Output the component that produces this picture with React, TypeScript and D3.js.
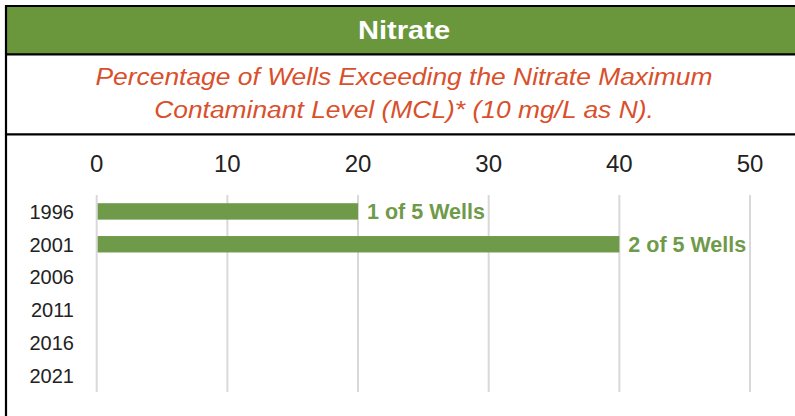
import React from "react";
import * as d3 from "d3";

const title = "Nitrate";
const subtitleLines = [
  "Percentage of Wells Exceeding the Nitrate Maximum",
  "Contaminant Level (MCL)* (10 mg/L as N).",
];
const years = ["1996", "2001", "2006", "2011", "2016", "2021"];
const percentValues: (number | null)[] = [20, 40, null, null, null, null];
const barLabels: (string | null)[] = ["1 of 5 Wells", "2 of 5 Wells", null, null, null, null];
const xTicks = [0, 10, 20, 30, 40, 50];

const W = 795;
const H = 416;
const GREEN_HEAD = "#6a963c";
const GREEN_BAR = "#6f9a4a";
const RED = "#d9502c";
const FONT = "Liberation Sans, Arial, Helvetica, sans-serif";

export default function App() {
  const x = d3.scaleLinear().domain([0, 50]).range([96.7, 750]);
  const y = d3.scaleBand<string>().domain(years).range([195, 392]).paddingInner(0.5).paddingOuter(0.25);
  const cx = 404;

  return (
    <svg width={W} height={H} style={{ position: "absolute", left: 0, top: 0, background: "#fff" }}>
      {/* header */}
      <rect x={6} y={6} width={W} height={48} fill={GREEN_HEAD} />
      <text
        x={cx}
        y={39.5}
        textAnchor="middle"
        fill="#fff"
        style={{ fontFamily: FONT }}
        fontWeight="bold"
        fontSize={26}
        transform={`translate(${cx},0) scale(1.12,1) translate(${-cx},0)`}
      >
        {title}
      </text>
      {subtitleLines.map((s, i) => (
        <text
          key={i}
          x={cx}
          y={85 + i * 33}
          textAnchor="middle"
          fill={RED}
          style={{ fontFamily: FONT }}
          fontStyle="italic"
          fontSize={24}
          transform={`translate(${cx},0) scale(1.1,1) translate(${-cx},0)`}
        >
          {s}
        </text>
      ))}
      {/* borders */}
      <line x1={6} x2={W} y1={6} y2={6} stroke="#000" strokeWidth={2.2} />
      <line x1={6} x2={W} y1={54.3} y2={54.3} stroke="#000" strokeWidth={2.2} />
      <line x1={6} x2={W} y1={134.3} y2={134.3} stroke="#000" strokeWidth={2.2} />
      <line x1={6} x2={6} y1={5} y2={H} stroke="#000" strokeWidth={2.2} />

      {/* gridlines & ticks */}
      {xTicks.map((t) => (
        <g key={t}>
          <line x1={x(t)} x2={x(t)} y1={195} y2={392} stroke="#d9d9d9" strokeWidth={2} />
          <text x={x(t)} y={172} textAnchor="middle" style={{ fontFamily: FONT }} fontSize={24} fill="#222">
            {t}
          </text>
        </g>
      ))}

      {/* categories */}
      {years.map((yr) => (
        <text
          key={yr}
          x={74}
          y={(y(yr) as number) + y.bandwidth() / 2 + 7.3}
          textAnchor="end"
          style={{ fontFamily: FONT }}
          fontSize={20}
          fill="#222"
        >
          {yr}
        </text>
      ))}

      {/* bars */}
      {years.map((yr, i) => {
        const v = percentValues[i];
        if (v == null) return null;
        return (
          <g key={yr}>
            <rect
              x={x(0) + 1}
              y={y(yr) as number}
              width={x(v) - x(0) - 1}
              height={y.bandwidth()}
              fill={GREEN_BAR}
            />
            {barLabels[i] && (
              <text
                x={x(v) + 9}
                y={(y(yr) as number) + y.bandwidth() / 2 + 7.5}
                style={{ fontFamily: FONT }}
                fontWeight="bold"
                fontSize={21.5}
                fill={GREEN_BAR}
              >
                {barLabels[i]}
              </text>
            )}
          </g>
        );
      })}
    </svg>
  );
}
